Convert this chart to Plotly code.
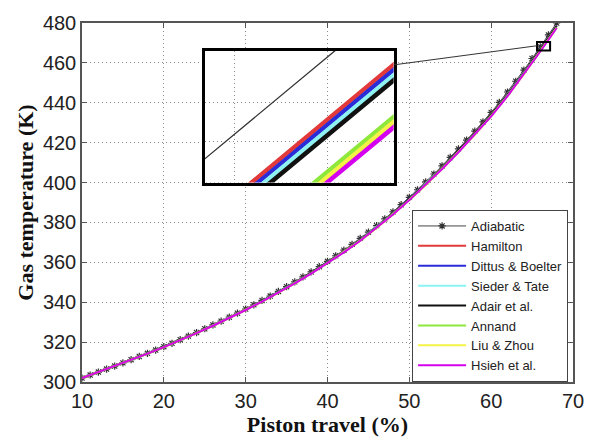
import plotly.graph_objects as go

# ---------------- data ----------------
piston_adiabatic = list(range(10, 69))
temp_adiabatic = [
    302.0, 303.5, 305.0, 306.5, 308.0, 309.6, 311.2, 312.8, 314.4, 316.0,
    317.7, 319.4, 321.2, 323.0, 324.8, 326.7, 328.6, 330.5, 332.5, 334.5,
    336.6, 338.7, 340.9, 343.1, 345.4, 347.8, 350.2, 352.7, 355.2, 357.8,
    360.5, 363.3, 366.1, 369.0, 372.0, 375.1, 378.4, 381.8, 385.3, 388.9,
    392.6, 396.4, 400.3, 404.3, 408.4, 412.6, 416.9, 421.3, 425.8, 430.4,
    435.2, 440.2, 445.4, 450.8, 456.4, 462.2, 468.1, 474.0, 480.0,
]

piston_models = list(range(10, 69, 2))
temp_hamilton = [302.0, 305.0, 308.0, 311.1, 314.3, 317.6, 321.1, 324.6, 328.4, 332.3,
                 336.3, 340.6, 345.0, 349.8, 354.8, 360.0, 365.6, 371.4, 377.8, 384.6,
                 391.9, 399.5, 407.6, 416.0, 424.9, 434.2, 444.4, 455.3, 466.9, 478.7]
temp_dittus = [302.0, 305.0, 308.0, 311.1, 314.3, 317.6, 321.0, 324.6, 328.4, 332.2,
               336.3, 340.6, 345.0, 349.8, 354.7, 360.0, 365.5, 371.4, 377.7, 384.6,
               391.8, 399.5, 407.5, 416.0, 424.8, 434.1, 444.3, 455.2, 466.8, 478.6]
temp_sieder = [302.0, 305.0, 307.9, 311.1, 314.3, 317.6, 321.0, 324.6, 328.4, 332.2,
               336.3, 340.5, 345.0, 349.8, 354.7, 359.9, 365.5, 371.3, 377.7, 384.5,
               391.8, 399.4, 407.5, 415.9, 424.7, 434.1, 444.2, 455.1, 466.7, 478.5]
temp_adair = [302.0, 305.0, 307.9, 311.1, 314.3, 317.6, 321.0, 324.6, 328.3, 332.2,
              336.3, 340.5, 345.0, 349.7, 354.7, 359.9, 365.4, 371.3, 377.6, 384.5,
              391.7, 399.3, 407.4, 415.8, 424.6, 434.0, 444.1, 455.0, 466.6, 478.4]
temp_annand = [302.0, 305.0, 307.9, 311.1, 314.2, 317.5, 320.9, 324.5, 328.2, 332.1,
               336.1, 340.3, 344.8, 349.5, 354.4, 359.6, 365.1, 370.9, 377.3, 384.1,
               391.3, 398.9, 406.9, 415.3, 424.1, 433.4, 443.5, 454.4, 465.9, 477.7]
temp_liu = [302.0, 305.0, 307.9, 311.1, 314.2, 317.5, 320.9, 324.5, 328.2, 332.0,
            336.1, 340.3, 344.7, 349.5, 354.4, 359.6, 365.1, 370.9, 377.2, 384.0,
            391.2, 398.8, 406.8, 415.2, 424.0, 433.3, 443.4, 454.3, 465.8, 477.6]
temp_hsieh = [302.0, 305.0, 307.9, 311.1, 314.2, 317.5, 320.9, 324.5, 328.2, 332.0,
              336.1, 340.3, 344.7, 349.4, 354.3, 359.5, 365.0, 370.8, 377.2, 384.0,
              391.2, 398.8, 406.8, 415.2, 424.0, 433.2, 443.3, 454.2, 465.7, 477.5]

model_names = ["Hamilton", "Dittus & Boelter", "Sieder & Tate", "Adair et al.",
               "Annand", "Liu & Zhou", "Hsieh et al."]
model_temps = [temp_hamilton, temp_dittus, temp_sieder, temp_adair,
               temp_annand, temp_liu, temp_hsieh]
model_colors = ["#e23a3a", "#2b2bd8", "#8ef2f2", "#111111",
                "#8ee83c", "#f4f244", "#d400ee"]

x_ticks = [10, 20, 30, 40, 50, 60, 70]
y_ticks = [300, 320, 340, 360, 380, 400, 420, 440, 460, 480]

# ---------------- figure ----------------
fig = go.Figure()

# main axes
fig.add_trace(go.Scatter(
    x=piston_adiabatic, y=temp_adiabatic, name="Adiabatic",
    mode="lines+markers",
    line=dict(color="#444444", width=1),
    marker=dict(symbol="asterisk-open", size=6, color="#333333",
                line=dict(width=1.2, color="#333333")),
))
for name, temps, col in zip(model_names, model_temps, model_colors):
    fig.add_trace(go.Scatter(
        x=piston_models, y=temps, name=name, mode="lines",
        line=dict(color=col, width=2),
    ))

# inset axes (zoom)
fig.add_trace(go.Scatter(
    x=piston_adiabatic, y=temp_adiabatic, mode="lines", showlegend=False,
    line=dict(color="#333333", width=1.3), xaxis="x2", yaxis="y2",
))
for name, temps, col in zip(model_names, model_temps, model_colors):
    fig.add_trace(go.Scatter(
        x=piston_models, y=temps, mode="lines", showlegend=False,
        line=dict(color=col, width=4.5), xaxis="x2", yaxis="y2",
    ))

tick_font = dict(family="Liberation Sans, Arial, sans-serif", size=20, color="#222222")
title_font = dict(family="Liberation Serif, Times New Roman, serif", size=22,
                  color="#111111", weight="bold")

common_axis = dict(
    ticks="inside", ticklen=5, tickcolor="#555555",
    showline=True, linecolor="#555555", linewidth=1.5, mirror="ticks",
    showgrid=True, gridcolor="#8a8a8a", griddash="1px,3px", gridwidth=1,
    zeroline=False, tickfont=tick_font,
)

fig.update_layout(
    width=596, height=443,
    margin=dict(l=82, r=13, t=13, b=52),
    plot_bgcolor="white", paper_bgcolor="white",
    xaxis=dict(domain=[0, 1], range=[10, 70], tickvals=x_ticks,
               title=dict(text="Piston travel (%)", font=title_font, standoff=4),
               **common_axis),
    yaxis=dict(domain=[0, 1], range=[300, 480], tickvals=y_ticks,
               title=dict(text="Gas temperature (K)", font=title_font, standoff=3),
               **common_axis),
    xaxis2=dict(domain=[0.2495, 0.6347], anchor="y2", range=[66.2, 66.71],
                tickvals=[66.282, 66.533], showticklabels=False, ticks="",
                showgrid=True, gridcolor="#8a8a8a", griddash="1px,3px",
                showline=True, linecolor="black", linewidth=3, mirror=True,
                zeroline=False),
    yaxis2=dict(domain=[0.5556, 0.9233], anchor="x2", range=[468.83, 471.36],
                tickvals=[469.61, 470.36], showticklabels=False, ticks="",
                showgrid=True, gridcolor="#8a8a8a", griddash="1px,3px",
                showline=True, linecolor="black", linewidth=3, mirror=True,
                zeroline=False),
    legend=dict(x=0.99, y=0.0, xanchor="right", yanchor="bottom",
                bgcolor="white", bordercolor="#444444", borderwidth=1,
                font=dict(family="Liberation Sans, Arial, sans-serif", size=13,
                          color="#222222"),
                itemwidth=48, tracegroupgap=0),
    showlegend=True,
)

# zoom box and connector on the main axes
fig.add_shape(type="rect", xref="x", yref="y", x0=65.6, x1=67.2, y0=466.2, y1=470.5,
              line=dict(color="black", width=2))
fig.add_shape(type="line", xref="x", yref="y", x0=48.08, y0=459.0, x1=65.6, y1=468.6,
              line=dict(color="#333333", width=1))

fig.write_html("out.html")
